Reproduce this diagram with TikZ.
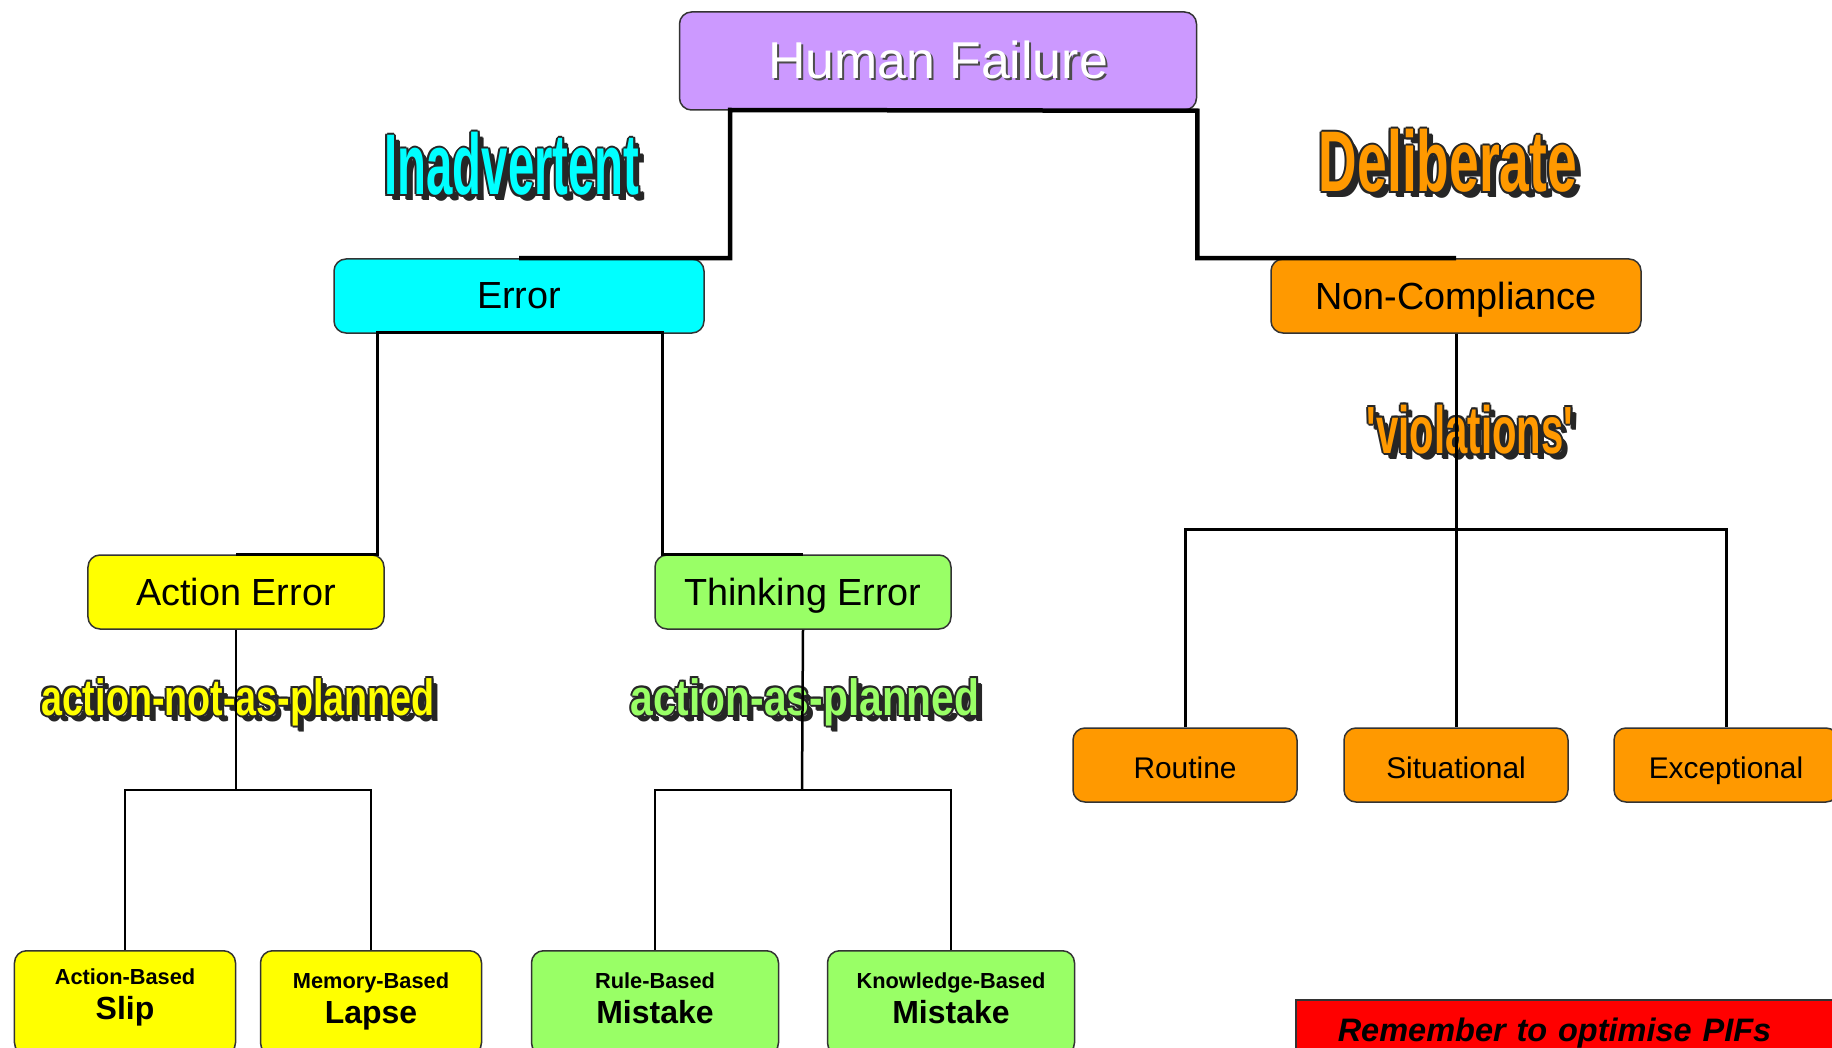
\documentclass[tikz,border=0pt]{standalone}
\usepackage{fontspec}
\setmainfont{Liberation Sans}
\usepackage{graphicx}
\usepackage{tikz}

\definecolor{hfpurple}{HTML}{CC99FF}
\definecolor{errcyan}{HTML}{00FFFF}
\definecolor{ncorange}{HTML}{FF9900}
\definecolor{aeyellow}{HTML}{FFFF00}
\definecolor{tegreen}{HTML}{99FF66}
\definecolor{pifred}{HTML}{FF0000}

\newcommand{\shadowed}[1]{\makebox[0pt][l]{\kern0.5mm\raisebox{-0.5mm}{\textcolor{black!70}{#1}}}#1}
\newcommand{\wordart}[6]{%
  \foreach \dx/\dy in {5/5,6/6,-2/0,2/0,0/-2,0/2,-1.5/-1.5,1.5/1.5,-1.5/1.5,1.5/-1.5}
    {\node[anchor=base, text=black!85, font=\fontsize{#4}{#4}\selectfont\bfseries] at ([shift={(\dx,\dy)}]#2) {\scalebox{#5}[1]{#6}};}
  \node[anchor=base, text=#3, font=\fontsize{#4}{#4}\selectfont\bfseries] (#1) at (#2) {\scalebox{#5}[1]{#6}};}

\tikzset{
  box/.style={draw=black!80, line width=0.3mm, rounded corners=2.4mm, align=center, inner sep=0pt},
  hfbox/.style={box, fill=hfpurple, minimum width=103.4mm, minimum height=19.6mm, text=white, font=\fontsize{29.5}{32}\selectfont},
  midbox/.style={box, minimum width=59.2mm, minimum height=14.8mm, text depth=0pt, font=\fontsize{21.5}{24}\selectfont},
  subbox/.style={box, fill=ncorange, minimum width=44.8mm, minimum height=14.8mm, text height=5.3mm, text depth=0pt, font=\fontsize{17}{20}\selectfont},
  leafbox/.style={box, anchor=north, minimum width=44.2mm, minimum height=20.8mm, text depth=1.9mm, font=\fontsize{18.2}{20}\selectfont\bfseries},
  pifbox/.style={draw=black!80, line width=0.3mm, fill=pifred, text width=100mm, align=left, inner xsep=8.4mm, inner ysep=0pt, minimum height=13.2mm, font=\fontsize{18.5}{20}\selectfont\bfseries\itshape},
  trunk/.style={line width=0.9mm},
  branch/.style={line width=0.6mm},
  twig/.style={line width=0.5mm},
}

\begin{document}
\begin{tikzpicture}[x=0.2mm, y=-0.2mm]
    \useasboundingbox (0,0) rectangle (1832,1048);
    \node[hfbox] (hf) at (938,61) {\shadowed{Human Failure}};
    \node[midbox, fill=errcyan, minimum width=74mm] (err) at (519,296) {Error};
    \node[midbox, fill=ncorange, minimum width=74mm] (nc) at (1456,296) {Non-Compliance};
    \node[midbox, fill=aeyellow] (ae) at (236,592) {Action Error};
    \node[midbox, fill=tegreen] (te) at (803,592) {Thinking Error};
    \node[subbox] (rout) at (1185,765) {Routine};
    \node[subbox] (sit) at (1456,765) {Situational};
    \node[subbox] (exc) at (1726,765) {Exceptional};
    \node[leafbox, fill=aeyellow, text depth=3.3mm] (slip) at (125,950) {{\fontsize{12.4}{14}\selectfont Action-Based}\\Slip};
    \node[leafbox, fill=aeyellow] (lapse) at (371,950) {{\fontsize{12.4}{14}\selectfont Memory-Based}\\Lapse};
    \node[leafbox, fill=tegreen, minimum width=49.4mm] (rule) at (655,950) {{\fontsize{12.4}{14}\selectfont Rule-Based}\\Mistake};
    \node[leafbox, fill=tegreen, minimum width=49.4mm] (know) at (951,950) {{\fontsize{12.4}{14}\selectfont Knowledge-Based}\\Mistake};
    \node[pifbox, anchor=north west] (pif) at (1295,999) {Remember to optimise PIFs};
    \wordart{inadv}{512,195}{errcyan}{49}{0.55}{Inadvertent}
    \wordart{delib}{1448,192}{ncorange}{49}{0.62}{Deliberate}
    \wordart{viol}{1470,453}{ncorange}{38}{0.6}{\textquotesingle violations\textquotesingle}
    \wordart{notplan}{238,715}{aeyellow}{29}{0.74}{action-not-as-planned}
    \wordart{asplan}{805,715}{tegreen}{29}{0.8}{action-as-planned}
    \coordinate (hfL) at (730,110);
    \coordinate (errL) at (377,333);
    \coordinate (errR) at (662,333);
    \coordinate (ncJ) at (1456,529);
    \coordinate (aeJ) at (236,790);
    \coordinate (teJ) at (802,790);
    \draw[trunk] (err.north) -| (hfL) -- (hf.south east) |- (nc.north);
    \draw[branch] (ae.north) -| (errL) -- (errR) |- (te.north);
    \draw[branch] (nc.south) -- (sit.north);
    \draw[branch] (rout.north) |- (ncJ) -| (exc.north);
    \draw[twig] (ae.south) -- (aeJ);
    \draw[twig] (slip.north) |- (aeJ) -| (lapse.north);
    \draw[twig] (te.south) -- (teJ);
    \draw[twig] (rule.north) |- (teJ) -| (know.north);
\end{tikzpicture}
\end{document}
